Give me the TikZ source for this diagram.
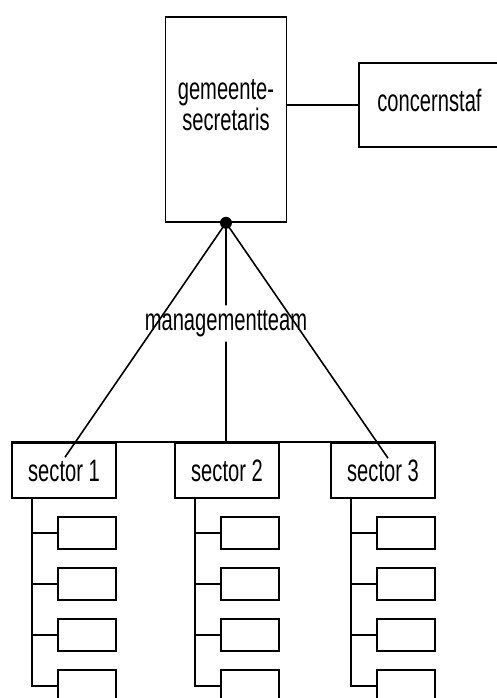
\documentclass[tikz,border=0pt]{standalone}
\usepackage{fontspec}
\setmainfont[FakeStretch=0.65]{Liberation Sans}
\usetikzlibrary{positioning}

\begin{document}
\begin{tikzpicture}[x=1pt, y=-1pt, line width=1.6pt, font=\fontsize{31}{31}\selectfont]
                \tikzset{
                    box/.style={draw, rectangle, inner sep=0pt},
                    sector/.style={box, minimum width=104, minimum height=55},
                    unit/.style={box, minimum width=58, minimum height=32}
                }

                \useasboundingbox (0,0) rectangle (497,698);
                \clip (0,0) rectangle (497,698);

                % TOP
                \node[box, minimum width=121, minimum height=205] (gs) at (226,119.5) {};
                \node[align=center] (gstext) at (226,105.2) {gemeente-\\secretaris};
                \node[box, minimum width=141, minimum height=84, text depth=9.2pt] (cs) at (429.5,105) {concernstaf};
                \draw (gs.east |- cs.west) -- (cs.west);

                % MANAGEMENTTEAM
                \fill (gs.south) circle (6);
                \node[inner sep=4pt] (mt) at (226,323.5) {managementteam};

                % SECTORS
                \node[sector] (s1) at (64,470.5) {sector 1};
                \node[sector] (s2) at (227,470.5) {sector 2};
                \node[sector] (s3) at (383,470.5) {sector 3};
                \draw (s1.north west) -- (s3.north east);

                % LINES
                \path[draw]
                    (gs.south) -- ([xshift=1, yshift=-15]s1.north)
                    (gs.south) -- (gs.south |- mt.north)
                    (gs.south |- mt.south) -- (gs.south |- s2.north)
                    (gs.south) -- ([xshift=5, yshift=-16]s3.north);

                % UNITS
                \foreach \s in {1,2,3}{
                    \foreach \i in {1,...,4}{
                        \node[unit, anchor=east] (u\s\i) at ([yshift={-62.5-51*(\i-1)}]s\s.east) {};
                        \draw ([xshift=-32]s\s.south) |- (u\s\i.west);
                    }
                }
            \end{tikzpicture}
\end{document}
